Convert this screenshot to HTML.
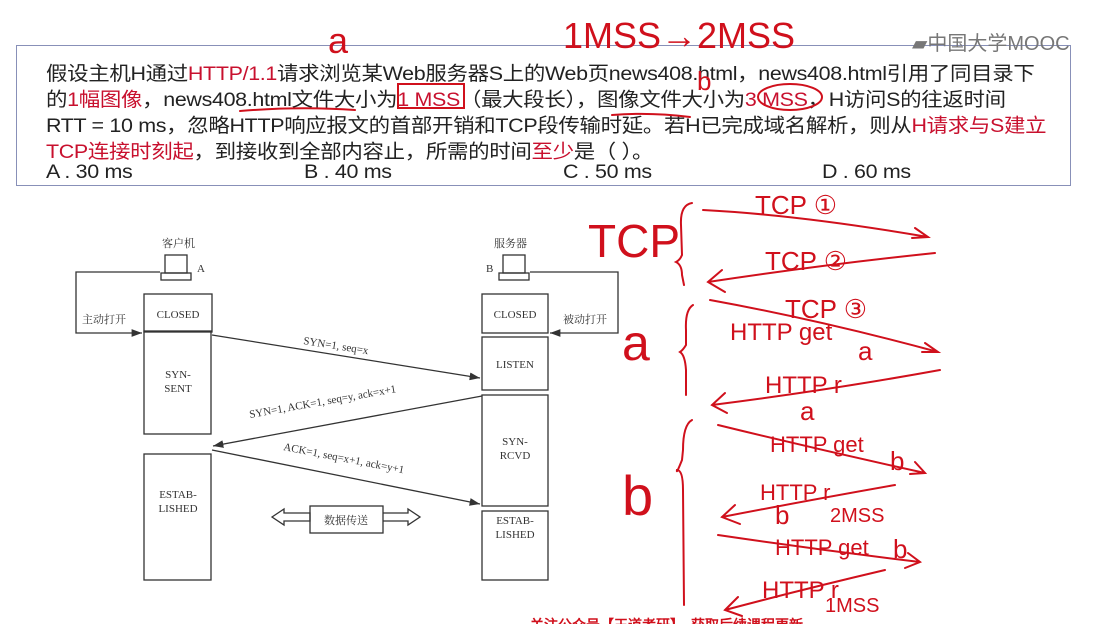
<!DOCTYPE html>
<html><head><meta charset="utf-8"><style>
body{margin:0;width:1108px;height:624px;background:#fff;overflow:hidden;position:relative;font-family:"Liberation Sans","Noto Sans CJK SC",sans-serif}
.q{position:absolute;left:46px;font-size:19.5px;color:#222;white-space:nowrap;letter-spacing:-0.3px;transform:scaleX(1.1);transform-origin:0 0}
.r{color:#c8102e}
.hw{font-family:"Liberation Sans",sans-serif;fill:#d0101c}
</style></head><body>
<div style="position:absolute;left:16px;top:45px;width:1053px;height:139px;border:1.5px solid #8890b8"></div>
<div class="q" style="top:57px">假设主机H通过<span class="r">HTTP/1.1</span>请求浏览某Web服务器S上的Web页news408.html，news408.html引用了同目录下</div>
<div class="q" style="top:83px">的<span class="r">1幅图像</span>，news408.html文件大小为<span class="r">1 MSS</span>（最大段长），图像文件大小为<span class="r">3 MSS</span>，H访问S的往返时间</div>
<div class="q" style="top:109px">RTT = 10 ms，忽略HTTP响应报文的首部开销和TCP段传输时延。若H已完成域名解析，则从<span class="r">H请求与S建立</span></div>
<div class="q" style="top:135px"><span class="r">TCP连接时刻起</span>，到接收到全部内容止，所需的时间<span class="r">至少</span>是（ ）。</div>
<div class="q" style="top:161px">A . 30 ms</div>
<div class="q" style="top:161px;left:304px">B . 40 ms</div>
<div class="q" style="top:161px;left:563px">C . 50 ms</div>
<div class="q" style="top:161px;left:822px">D . 60 ms</div>
<div style="position:absolute;left:912px;top:27px;font-size:20px;color:#777">▰中国大学MOOC</div>

<svg width="1108" height="624" style="position:absolute;left:0;top:0" xmlns="http://www.w3.org/2000/svg">
<defs><marker id="ah" markerWidth="8" markerHeight="6" refX="8" refY="3" orient="auto"><path d="M0,0 L8,3 L0,6 z" fill="#333"/></marker></defs>
<g fill="none" stroke="#333" stroke-width="1.3">
<rect x="144" y="294" width="68" height="38"/><rect x="144" y="331" width="67" height="103"/><rect x="144" y="454" width="67" height="126"/>
<rect x="482" y="294" width="66" height="39"/><rect x="482" y="337" width="66" height="53"/><rect x="482" y="395" width="66" height="111"/><rect x="482" y="511" width="66" height="69"/>
<path d="M160,272 H76 V333 H142" marker-end="url(#ah)"/>
<path d="M530,272 H618 V333 H550" marker-end="url(#ah)"/>
<path d="M212,335 L480,378" marker-end="url(#ah)"/>
<path d="M482,396 L213,446" marker-end="url(#ah)"/>
<path d="M212,450 L480,504" marker-end="url(#ah)"/>
<path d="M272,517 L284,509 V513 H310 V521 H284 V525 Z"/>
<rect x="310" y="506" width="73" height="27"/>
<path d="M383,513 H408 V509 L420,517 L408,525 V521 H383"/>
<rect x="165" y="255" width="22" height="18"/><rect x="161" y="273" width="30" height="7"/>
<rect x="503" y="255" width="22" height="18"/><rect x="499" y="273" width="30" height="7"/>
</g>
<g fill="#333" font-family="Liberation Serif,Noto Serif CJK SC,serif" font-size="11">
<text x="178" y="318" text-anchor="middle">CLOSED</text>
<text x="178" y="378" text-anchor="middle">SYN-</text><text x="178" y="392" text-anchor="middle">SENT</text>
<text x="178" y="498" text-anchor="middle">ESTAB-</text><text x="178" y="512" text-anchor="middle">LISHED</text>
<text x="515" y="318" text-anchor="middle">CLOSED</text>
<text x="515" y="368" text-anchor="middle">LISTEN</text>
<text x="515" y="445" text-anchor="middle">SYN-</text><text x="515" y="459" text-anchor="middle">RCVD</text>
<text x="515" y="524" text-anchor="middle">ESTAB-</text><text x="515" y="538" text-anchor="middle">LISHED</text>
<text x="346" y="524" text-anchor="middle">数据传送</text>
<text x="82" y="323">主动打开</text><text x="563" y="323">被动打开</text>
<text x="162" y="247">客户机</text><text x="494" y="247">服务器</text>
<text x="197" y="272">A</text><text x="486" y="272">B</text>
<text transform="translate(303,344) rotate(9)">SYN=1, seq=x</text>
<text transform="translate(250,418) rotate(-10)">SYN=1, ACK=1, seq=y, ack=x+1</text>
<text transform="translate(283,450) rotate(11)">ACK=1, seq=x+1, ack=y+1</text>
</g>
<g fill="none" stroke="#d0101c" stroke-width="2" stroke-linecap="round">
<rect x="398" y="84" width="66" height="24"/>
<ellipse cx="790" cy="97" rx="32" ry="13"/>
<path d="M240,111 Q300,106 355,110"/><path d="M612,115 Q650,112 690,117"/>
<path d="M703,210 Q800,215 928,237 M915,228 L928,237 L912,238"/>
<path d="M935,253 Q820,265 708,282 M722,270 L708,282 L725,292"/>
<path d="M710,300 Q820,320 938,352 M925,343 L938,352 L922,352"/>
<path d="M940,370 Q830,390 712,405 M725,393 L712,405 L727,413"/>
<path d="M718,425 Q820,450 925,473 M915,462 L925,473 L910,474"/>
<path d="M895,485 Q810,500 722,517 M735,505 L722,517 L740,524"/>
<path d="M718,535 Q820,550 920,562 M908,553 L920,562 L905,568"/>
<path d="M885,570 Q800,590 725,610 M738,597 L725,610 L742,616"/>
<path d="M692,203 Q680,205 681,225 L682,255 Q680,260 676,262 Q682,265 682,275 L684,285"/>
<path d="M693,305 Q685,310 686,330 L686,345 Q683,350 680,352 Q685,355 686,370 L686,395"/>
<path d="M692,420 Q683,425 683,450 L682,460 Q676,475 677,470 Q683,470 683,490 L684,605"/>
</g>
<g class="hw" font-size="26">
<text x="755" y="214">TCP ①</text><text x="765" y="270">TCP ②</text><text x="785" y="318">TCP ③</text>
<text x="730" y="340" font-size="24">HTTP get</text><text x="858" y="360">a</text>
<text x="765" y="393" font-size="24">HTTP r</text><text x="800" y="420">a</text>
<text x="770" y="452" font-size="22">HTTP get</text><text x="890" y="470">b</text>
<text x="760" y="500" font-size="22">HTTP r</text><text x="775" y="524">b</text><text x="830" y="522" font-size="20">2MSS</text>
<text x="775" y="555" font-size="22">HTTP get</text><text x="893" y="558">b</text>
<text x="762" y="598" font-size="24">HTTP r</text><text x="825" y="612" font-size="20">1MSS</text>
<text x="588" y="257" font-size="46">TCP</text>
<text x="622" y="360" font-size="50">a</text>
<text x="622" y="515" font-size="56">b</text>
<text x="328" y="53" font-size="36">a</text>
<text x="697" y="90" font-size="26">b</text>
<text x="563" y="48" font-size="36">1MSS→2MSS</text>
<text x="530" y="630" font-size="14" font-weight="bold">关注公众号【王道考研】，获取后续课程更新</text>
</g>
</svg>
</body></html>
